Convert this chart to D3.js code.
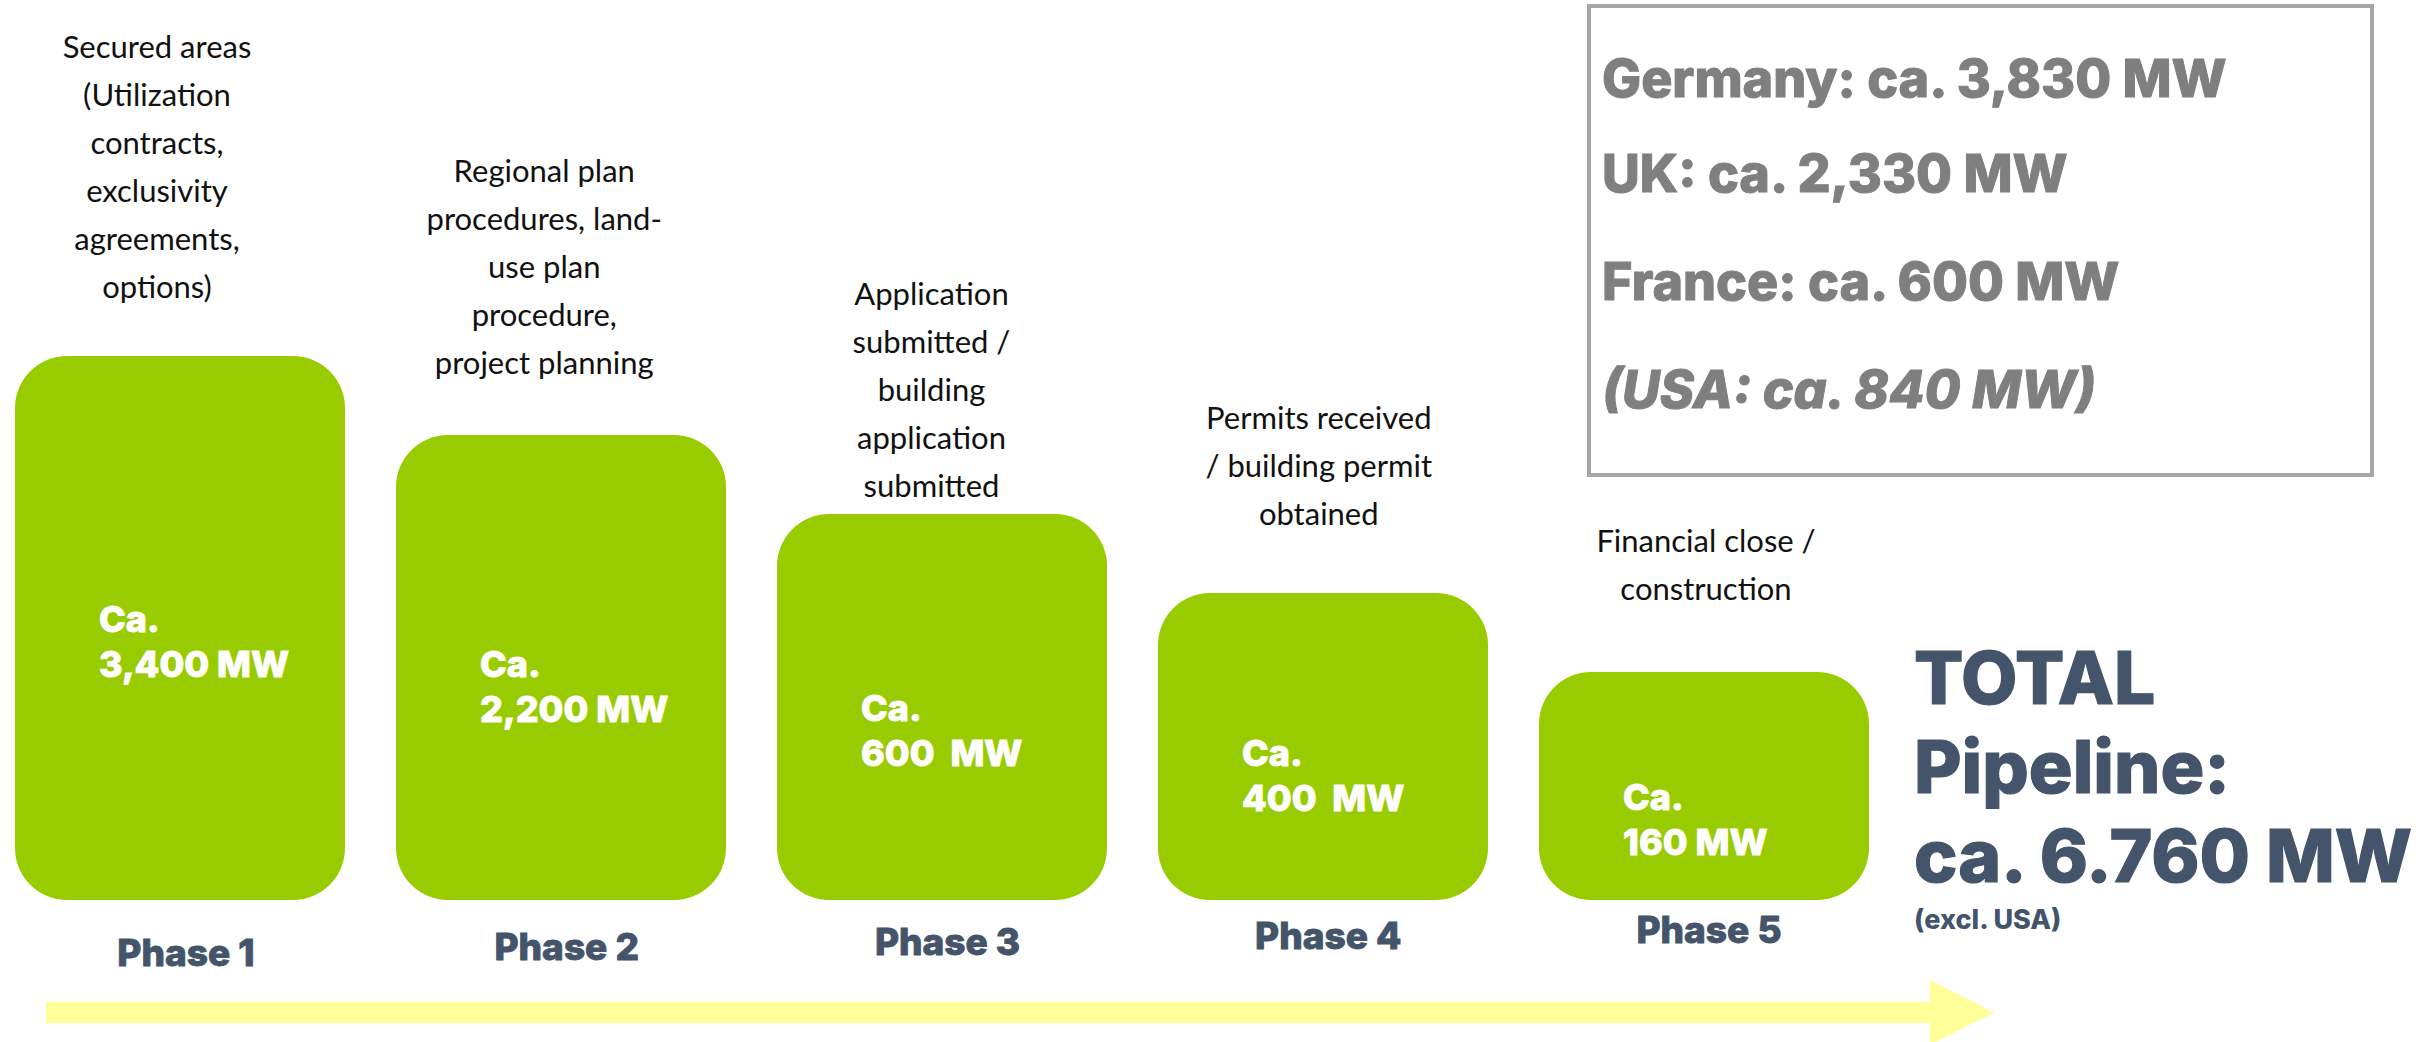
<!DOCTYPE html>
<html>
<head>
<meta charset="utf-8">
<script src="https://cdn.jsdelivr.net/npm/d3@7"></script>
<style>
  html, body { margin: 0; padding: 0; background: #ffffff; }
  svg { display: block; }
</style>
</head>
<body>
<div id="chart"></div>
<script>
// ---------------- data ----------------
const phases = ["Phase 1", "Phase 2", "Phase 3", "Phase 4", "Phase 5"];
const values = [3400, 2200, 600, 400, 160];
const valueLabels = ["3,400 MW", "2,200 MW", "600  MW", "400  MW", "160 MW"];
const descriptions = [
  ["Secured areas", "(Utilization", "contracts,", "exclusivity", "agreements,", "options)"],
  ["Regional plan", "procedures, land-", "use plan", "procedure,", "project planning"],
  ["Application", "submitted /", "building", "application", "submitted"],
  ["Permits received", "/ building permit", "obtained"],
  ["Financial close /", "construction"]
];
const countries = ["Germany", "UK", "France", "USA"];
const countryValues = ["3,830", "2,330", "600", "840"];
const totalLines = ["TOTAL", "Pipeline:", "ca. 6.760 MW"];
const totalNote = "(excl. USA)";

// ---------------- layout ----------------
const W = 2427, H = 1042;
const svg = d3.select("#chart").append("svg")
  .attr("width", W).attr("height", H)
  .attr("viewBox", `0 0 ${W} ${H}`);
svg.append("rect").attr("width", W).attr("height", H).attr("fill", "#ffffff");

const n = phases.length;
const idx = d3.range(n);
// rank of each value (boxes form a descending staircase by rank)
const rank = values.map(v => values.filter(u => u > v).length);

const baseY = 900;
const barW = 330;
const xLeft = d3.scaleLinear().domain([0, n - 1]).range([15, 1539]);
const hScale = d3.scaleLinear().domain([0, n - 1]).range([544, 228]);
const descX = d3.scaleLinear().domain([0, n - 1]).range([157, 1706]);
const descY0 = d3.scaleLinear().domain([0, n - 1]).range([58, 552]);
const phaseX = d3.scaleLinear().domain([0, n - 1]).range([186, 1709]);
const phaseY = d3.scaleLinear().domain([0, n - 1]).range([966, 943]);

const green = "#99CC00";
const slate = "#44546A";
const gray = "#7F7F7F";
const boldFont = "Inter, 'Open Sans', sans-serif";

// arrow
const arrowPath = d3.path();
arrowPath.moveTo(46, 1002);
arrowPath.lineTo(1930, 1002);
arrowPath.lineTo(1930, 980);
arrowPath.lineTo(1994, 1012.5);
arrowPath.lineTo(1930, 1045);
arrowPath.lineTo(1930, 1023);
arrowPath.lineTo(46, 1023);
arrowPath.closePath();
svg.append("path").attr("d", arrowPath.toString()).attr("fill", "#FFFF99");

// boxes
const g = svg.append("g");
g.selectAll("rect.box").data(idx).join("rect")
  .attr("class", "box")
  .attr("x", i => xLeft(i))
  .attr("y", i => baseY - hScale(rank[i]))
  .attr("width", barW)
  .attr("height", i => hScale(rank[i]))
  .attr("rx", 52).attr("ry", 52)
  .attr("fill", green);

// value labels inside boxes
const vl = g.selectAll("text.val").data(idx).join("text")
  .attr("class", "val")
  .attr("x", i => xLeft(i) + 84)
  .attr("y", i => (baseY - hScale(rank[i]) + baseY) / 2 + 4 + 5 * i)
  .attr("fill", "#ffffff")
  .attr("stroke", "#ffffff").attr("stroke-width", 0.9)
  .attr("font-family", boldFont)
  .attr("font-weight", 800)
  .attr("font-size", 36)
  .style("white-space", "pre");
vl.append("tspan").attr("x", i => xLeft(i) + 84).text("Ca.");
vl.append("tspan").attr("x", i => xLeft(i) + 84).attr("dy", 45).text(i => valueLabels[i]);

// descriptions above
const dl = g.selectAll("text.desc").data(idx).join("text")
  .attr("class", "desc")
  .attr("text-anchor", "middle")
  .attr("fill", "#111111")
  .attr("font-family", "Lato, 'Open Sans', sans-serif")
  .attr("font-size", 31)
  .attr("y", i => descY0(i));
dl.each(function(i) {
  d3.select(this).selectAll("tspan").data(descriptions[i]).join("tspan")
    .attr("x", descX(i))
    .attr("dy", (d, k) => k === 0 ? 0 : 48)
    .text(d => d);
});

// phase labels
g.selectAll("text.phase").data(idx).join("text")
  .attr("class", "phase")
  .attr("x", i => phaseX(i))
  .attr("y", i => phaseY(i))
  .attr("text-anchor", "middle")
  .attr("fill", slate)
  .attr("stroke", slate).attr("stroke-width", 0.9)
  .attr("font-family", boldFont)
  .attr("font-weight", 800)
  .attr("font-size", 37)
  .text(i => phases[i]);

// country box
svg.append("rect")
  .attr("x", 1589).attr("y", 6).attr("width", 783).attr("height", 469)
  .attr("fill", "none").attr("stroke", "#A6A6A6").attr("stroke-width", 4);
const cy = d3.scaleLinear().domain([0, 1, 2, 3]).range([97, 192, 300, 408]);
svg.selectAll("text.country").data(countries).join("text")
  .attr("class", "country")
  .attr("x", 1602)
  .attr("y", (d, i) => cy(i))
  .attr("fill", gray)
  .attr("stroke", gray).attr("stroke-width", 1)
  .attr("font-family", boldFont)
  .attr("font-weight", 800)
  .attr("font-size", 52)
  .attr("font-style", d => d === "USA" ? "italic" : "normal")
  .text((d, i) => d === "USA"
    ? `(${d}: ca. ${countryValues[i]} MW)`
    : `${d}: ca. ${countryValues[i]} MW`);

// total
const tt = svg.append("text")
  .attr("x", 1914).attr("y", 704)
  .attr("fill", slate)
  .attr("stroke", slate).attr("stroke-width", 1.2)
  .attr("font-family", boldFont)
  .attr("font-weight", 800)
  .attr("font-size", 73);
tt.selectAll("tspan").data(totalLines).join("tspan")
  .attr("x", 1914)
  .attr("y", (d, k) => 704 + k * 89)
  .text(d => d);
svg.append("text")
  .attr("x", 1914).attr("y", 929)
  .attr("fill", slate)
  .attr("font-family", boldFont)
  .attr("font-weight", 800)
  .attr("font-size", 27)
  .text(totalNote);
</script>
</body>
</html>
